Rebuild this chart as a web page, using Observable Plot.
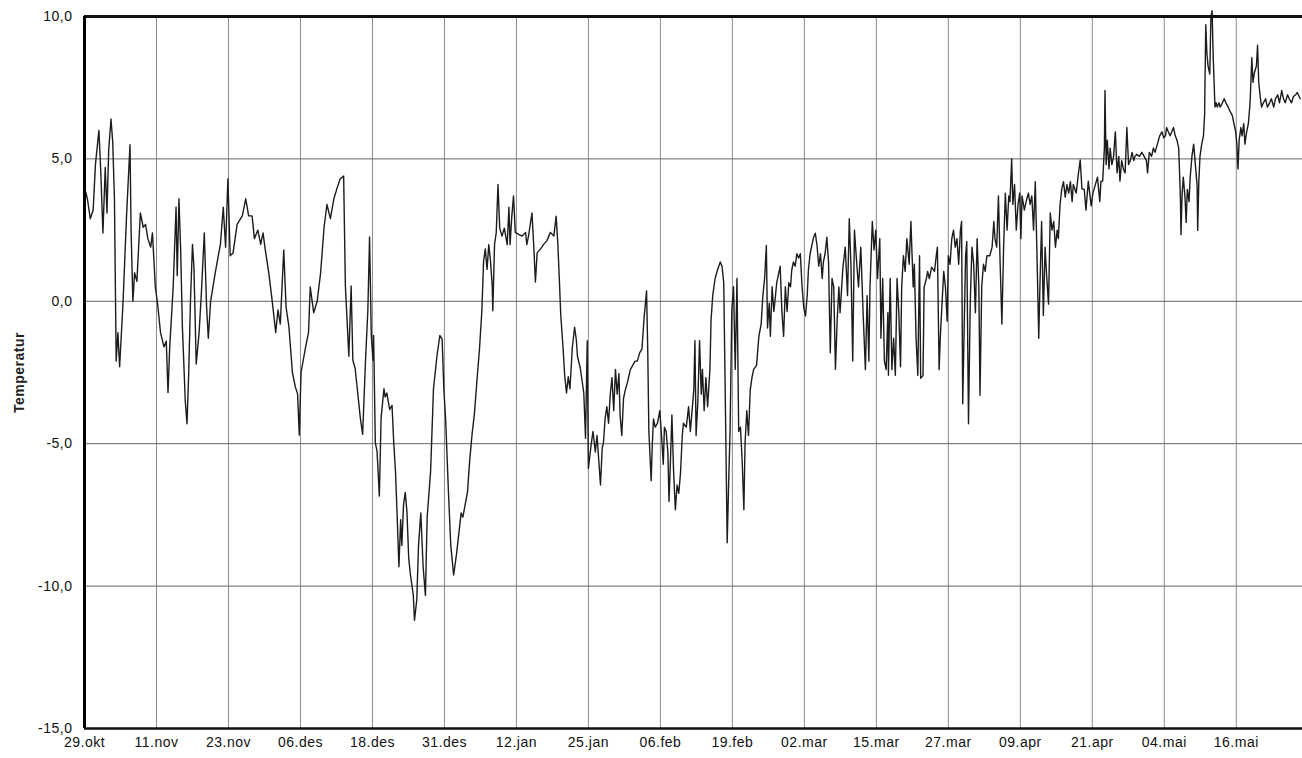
<!DOCTYPE html>
<html>
<head>
<meta charset="utf-8">
<script src="https://cdn.jsdelivr.net/npm/d3@7"></script>
<script src="https://cdn.jsdelivr.net/npm/@observablehq/plot@0.6"></script>
<style>
  body { margin: 0; background: #fff; }
  svg text { letter-spacing: 0.5px; }
</style>
</head>
<body>
<div id="chart"></div>
<script>
// Tick labels (one every 12.5 days from 29 Oct)
const xTickLabels = ["29.okt","11.nov","23.nov","06.des","18.des","31.des","12.jan","25.jan","06.feb","19.feb","02.mar","15.mar","27.mar","09.apr","21.apr","04.mai","16.mai"];
const xTickStepDays = 12.5;
const yTicks = [-15, -10, -5, 0, 5, 10];
const yGrid = [-10, -5, 0, 5];

// Days since 29.okt
const days = [
0,0.5,1.0,1.5,1.9,2.5,2.8,3.2,3.6,3.9,4.2,4.6,4.9,5.2,5.5,5.8,6.1,6.7,7.3,7.9,8.1,8.4,8.7,9.1,9.7,10.2,10.6,11.0,11.5,11.8,12.3,12.7,13.2,13.8,14.2,14.5,14.8,15.4,15.9,16.1,16.4,16.7,17.0,17.5,17.8,18.1,18.4,18.75,19.0,19.4,19.9,20.3,20.8,21.2,21.5,21.9,22.7,23.6,24.1,24.5,24.9,25.3,25.8,26.5,27.4,28.0,28.5,29.1,29.5,30.1,30.6,31.0,31.4,32.0,32.6,33.2,33.6,34.0,34.6,35.0,35.5,36.1,36.6,37.0,37.3,37.6,38.4,38.9,39.2,39.8,40.4,41.0,41.6,42.1,42.7,43.3,43.9,44.4,45.0,
45.3,45.9,46.3,46.6,47.0,47.3,47.9,48.3,48.8,49.2,49.5,49.8,50.1,50.2,50.5,50.8,51.2,51.5,52.0,52.2,52.5,53.0,53.4,53.7,54.0,54.3,54.6,54.9,55.1,55.4,55.7,56.0,56.3,56.6,57.1,57.3,57.7,58.0,58.4,58.8,59.2,59.5,60.1,60.6,61.2,61.7,62.1,62.4,62.7,63.2,63.6,64.1,64.6,65.0,65.4,65.7,66.1,66.5,66.9,67.3,67.7,68.2,68.6,69.0,69.3,69.6,69.9,70.2,70.5,70.8,70.9,71.2,71.5,71.8,72.1,72.5,72.9,73.4,73.7,73.9,74.2,74.5,74.8,75.4,76.0,76.6,76.8,77.1,77.7,78.0,78.3,78.6,79.2,79.7,80.3,80.9,81.5,81.9,82.2,82.5,82.7,83.1,83.4,83.7,84.0,84.3,84.7,85.1,85.4,85.6,86.1,86.7,87.0,
87.3,87.5,88.0,88.3,88.7,89.0,89.3,89.6,89.9,90.1,90.4,90.7,91.0,91.3,91.6,91.9,92.2,92.5,92.8,93.0,93.3,93.6,93.9,94.3,94.8,95.2,95.6,96.0,96.4,96.8,97.2,97.6,97.8,98.0,98.4,98.6,98.8,99.1,99.5,99.9,100.2,100.5,100.7,101.0,101.3,101.5,101.7,102.0,102.3,102.6,102.9,103.2,103.5,103.8,104.0,104.5,104.9,105.2,105.5,105.8,106.0,106.2,106.5,106.8,107.1,107.3,107.6,107.9,108.2,108.6,108.8,109.1,109.5,109.9,110.4,110.7,111.0,111.3,111.6,111.9,112.1,112.4,112.7,113.0,113.3,113.6,113.9,114.2,114.5,114.7,115.0,115.3,115.6,115.9,116.2,116.7,117.1,117.5,117.8,118.1,118.4,118.6,118.9,119.1,119.4,119.7,120.0,120.2,120.5,120.8,121.1,121.4,121.7,122.0,122.3,122.6,122.8,123.1,123.4,123.7,124.0,124.3,124.6,124.9,125.2,125.5,125.7,126.0,126.3,126.6,126.9,127.2,127.5,127.8,128.1,128.3,128.6,128.9,129.2,129.5,129.8,130.1,130.4,130.7,
131.0,131.2,131.7,132.1,132.5,132.8,133.1,133.4,133.7,134.0,134.4,134.8,135.2,135.6,135.9,136.2,136.4,136.8,137.1,137.4,137.7,138.1,138.3,138.6,138.9,139.2,139.5,139.6,139.9,140.2,140.5,140.8,141.1,141.4,141.7,141.9,142.2,142.5,142.8,143.2,143.5,143.9,144.1,144.4,144.7,145.0,145.2,145.6,145.8,146.2,146.4,146.7,147.1,147.6,147.9,148.1,148.4,148.6,148.9,149.2,149.5,149.8,150.0,150.3,150.6,150.9,151.2,151.5,151.8,152.1,152.3,152.5,152.8,153.0,153.2,153.5,153.8,154.1,154.4,154.7,155.0,155.3,155.5,155.8,156.1,156.4,156.7,157.2,157.6,157.9,158.1,158.4,158.7,159.0,159.3,159.6,159.9,160.2,160.5,160.7,161.0,161.2,161.5,161.8,162.1,162.4,162.6,162.8,163.2,163.5,163.9,164.2,164.5,164.8,165.1,165.4,165.7,165.9,166.2,166.5,166.8,167.1,167.4,167.7,168.0,168.3,168.6,168.9,169.1,169.4,169.7,170.0,170.3,170.6,170.9,171.2,171.5,171.7,172.2,172.6,172.9,173.2,
173.6,173.9,174.3,174.8,175.1,175.5,175.9,176.3,176.5,176.8,177.1,177.2,177.4,177.6,177.9,178.1,178.4,178.7,179.0,179.3,179.6,179.8,180.1,180.4,180.7,181.0,181.3,181.6,181.9,182.2,182.4,182.7,183.2,183.6,184.0,184.4,184.6,184.9,185.3,185.6,185.9,186.3,186.7,187.1,187.4,187.7,187.9,188.2,188.5,188.8,189.1,189.4,189.7,190.0,190.3,190.4,190.6,190.8,191.1,191.3,191.5,191.8,192.0,192.3,192.6,192.9,193.2,193.3,193.5,193.7,194.0,194.3,194.5,194.7,194.9,195.1,195.4,195.6,195.8,196.0,196.3,196.5,196.7,197.0,197.2,197.6,197.9,198.2,198.6,198.9,199.3,199.6,199.9,200.1,200.3,200.5,200.8,201.0,201.3,201.5,201.8,202.1,202.4,202.7,202.9,203.1,203.5,203.7,203.9,204.2,204.4,204.7,205.1,205.4,205.8,206.1,206.5,206.8,207.2,207.5,207.9,208.2,208.5,208.9,209.2,209.6,209.9,210.3,210.6,211.1
];

// Temperature readings
const temps = [
4.0,3.6,2.9,3.2,4.8,6.0,4.7,2.4,4.7,3.1,5.3,6.4,5.6,3.6,-2.1,-1.1,-2.3,0.0,3.0,5.5,2.4,0.0,1.0,0.7,3.1,2.6,2.7,2.2,1.9,2.4,0.5,-0.1,-1.1,-1.6,-1.4,-3.2,-1.6,0.5,3.3,0.9,3.6,1.8,-0.9,-3.5,-4.3,-2.5,0.0,2.0,1.2,-2.2,-1.1,0.3,2.4,-0.2,-1.3,0.0,1.0,2.0,3.3,1.9,4.3,1.6,1.7,2.7,3.0,3.6,3.0,3.0,2.2,2.5,2.0,2.4,1.8,1.0,0.0,-1.1,-0.3,-0.8,1.8,-0.2,-0.9,-2.5,-3.0,-3.25,-4.7,-2.5,-1.6,-1.1,0.5,-0.4,0.0,1.0,2.6,3.4,2.9,3.6,4.0,4.3,4.4,
0.54,-1.93,0.54,-2.07,-2.36,-2.94,-4.1,-4.67,-2.07,-0.33,2.26,-1.2,-2.07,-1.2,-4.97,-5.26,-6.84,-4.1,-3.07,-3.36,-3.22,-3.8,-3.65,-4.97,-5.97,-7.58,-9.32,-7.67,-8.57,-7.14,-6.71,-7.43,-9.03,-9.61,-10.33,-11.2,-10.48,-8.57,-7.43,-9.32,-10.33,-7.58,-5.97,-3.07,-1.93,-1.2,-1.33,-3.07,-4.1,-6.71,-8.57,-9.61,-8.88,-8.16,-7.43,-7.58,-7.14,-6.71,-5.55,-4.67,-3.96,-2.65,-1.64,-0.33,1.41,1.84,1.12,1.99,1.41,0.54,-0.33,1.99,2.42,4.1,2.57,2.29,2.57,1.99,3.3,1.99,2.99,3.7,2.42,2.35,2.29,2.42,1.99,2.29,3.1,1.99,0.68,1.7,1.84,1.99,2.13,2.42,2.29,2.99,1.99,0.54,-0.48,-1.64,-2.65,-3.22,-2.65,-3.07,-1.64,-0.91,-1.35,-1.93,-2.36,-3.22,-4.81,
-1.38,-5.87,-5.0,-4.57,-5.29,-4.71,-5.58,-6.45,-5.14,-5.0,-4.13,-3.7,-4.28,-3.26,-2.68,-3.84,-2.39,-3.26,-2.54,-3.99,-4.71,-3.41,-3.12,-2.83,-2.39,-2.25,-2.1,-2.1,-1.81,-1.67,-0.51,0.36,-1.67,-4.57,-6.3,-5.0,-4.13,-4.42,-4.28,-3.84,-4.71,-5.72,-4.42,-4.57,-5.29,-7.03,-5.87,-3.99,-6.01,-7.32,-6.45,-6.74,-6.01,-4.71,-4.28,-4.42,-3.7,-4.57,-3.84,-3.12,-1.38,-4.71,-3.55,-1.38,-3.26,-2.39,-3.84,-2.68,-3.7,-2.39,-0.65,0.22,0.8,1.09,1.38,1.23,0.65,-3.84,-8.48,-6.01,-4.57,-0.36,0.51,-2.39,0.8,-4.57,-4.42,-5.58,-7.32,-5.0,-3.84,-4.71,-3.12,-2.68,-2.39,-2.25,-1.23,-0.8,0.22,0.8,1.96,-0.94,-0.07,-1.23,0.51,-0.36,0.22,0.65,0.94,1.23,-0.36,-1.23,0.51,-0.36,0.65,0.51,1.09,1.38,1.23,1.67,1.52,1.67,0.51,-0.22,-0.51,0.22,1.09,1.67,1.96,2.25,2.39,1.96,1.23,1.67,0.8,1.38,1.67,2.25,1.38,-1.81,0.8,0.51,-2.39,-0.65,
0.5,-0.4,1.2,1.9,0.2,2.9,1.2,-2.1,2.5,1.6,0.5,1.9,-0.4,-2.4,0.2,-2.1,0.5,2.8,1.8,2.5,0.8,2.2,-1.3,0.8,-2.1,-2.4,-0.4,-2.6,0.8,-2.4,-1.3,-2.6,0.8,-0.4,-2.3,0.5,1.6,1.05,2.2,1.3,2.8,0.5,1.3,-1.3,-2.6,1.6,-2.7,-2.6,0.5,0.8,1.05,0.8,1.2,1.05,1.6,1.9,-2.4,-1.3,-0.1,1.05,0.5,-0.7,1.6,1.3,2.2,2.5,1.9,2.2,1.3,2.5,2.8,-3.6,-0.4,1.6,2.1,-4.3,-0.1,1.9,1.3,-0.4,2.2,0.5,-3.3,0.5,1.3,1.05,1.6,1.6,1.9,2.8,2.2,1.9,3.7,1.3,-0.8,1.9,3.8,2.5,3.7,3.5,5.0,3.4,4.1,2.5,3.4,3.8,2.2,3.7,3.2,3.5,3.8,3.4,3.7,2.5,4.2,1.6,-1.3,0.5,2.8,-0.5,1.9,0.8,-0.1,3.1,2.5,2.8,1.9,2.5,2.2,3.4,3.95,4.2,3.66,4.1,3.8,4.2,3.5,4.1,3.8,4.5,4.96,3.95,
3.93,3.2,4.22,3.35,3.79,4.07,4.36,3.5,4.22,4.22,5.38,7.4,4.8,5.66,4.65,5.38,4.8,5.09,5.95,4.51,5.09,4.22,4.94,4.65,4.51,6.1,4.8,4.94,5.23,4.94,5.09,5.16,5.09,5.23,5.09,4.94,4.51,5.23,5.09,5.38,5.23,5.52,5.81,5.95,5.74,5.81,6.1,5.95,5.81,5.95,6.1,5.81,5.66,5.38,3.64,2.34,3.79,4.36,3.64,2.77,3.93,3.5,4.36,5.09,5.52,4.8,4.07,2.49,4.22,5.09,5.52,5.81,6.53,9.71,8.7,8.27,7.98,10.0,10.2,8.55,6.82,6.97,6.82,6.97,6.82,6.97,7.11,6.97,6.82,6.68,6.53,6.24,5.95,5.52,4.65,5.66,6.1,5.81,6.24,5.52,5.95,6.24,6.97,8.55,7.69,7.98,8.27,8.99,7.69,7.11,6.82,6.97,7.11,6.82,6.97,7.11,6.82,7.11,7.25,6.97,7.4,7.11,6.97,7.25,7.11,6.97,7.18,7.25,7.33,7.11
];

const data = days.map((d, i) => ({day: d, temp: temps[i]}));
const xTicks = xTickLabels.map((_, i) => i * xTickStepDays);

const chart = Plot.plot({
  width: 1302,
  height: 758,
  marginLeft: 84,
  marginRight: 0,
  marginTop: 16,
  marginBottom: 30,
  x: {domain: [0, 211.5]},
  y: {domain: [-15, 10]},
  style: {
    fontFamily: "'Liberation Sans', Arial, sans-serif",
    fontSize: "14px",
    color: "#111",
    background: "#fff",
    overflow: "visible"
  },
  marks: [
    Plot.ruleX(xTicks.slice(1), {stroke: "#8a8a8a", strokeWidth: 1}),
    Plot.ruleY(yGrid, {stroke: "#666", strokeWidth: 1}),
    Plot.line(data, {x: "day", y: "temp", stroke: "#1c1c1c", strokeWidth: 1.4}),
    Plot.ruleY([10], {stroke: "#111", strokeWidth: 3}),
    Plot.ruleY([-15], {stroke: "#111", strokeWidth: 2.5}),
    Plot.ruleX([0], {stroke: "#000", strokeWidth: 3}),
    Plot.axisY({ticks: yTicks, tickFormat: d => d.toFixed(1).replace(".", ","), tickSize: 0, tickPadding: 12, label: null, fontSize: 14}),
    Plot.axisX({ticks: xTicks, tickFormat: d => xTickLabels[Math.round(d / xTickStepDays)], tickSize: 0, tickPadding: 9, label: null, fontSize: 14}),
    Plot.text(["Temperatur"], {frameAnchor: "left", textAnchor: "middle", rotate: -90, dx: -65, fontSize: 14, fontWeight: 600, fill: "#222"})
  ]
});
document.getElementById("chart").appendChild(chart);
</script>
</body>
</html>
